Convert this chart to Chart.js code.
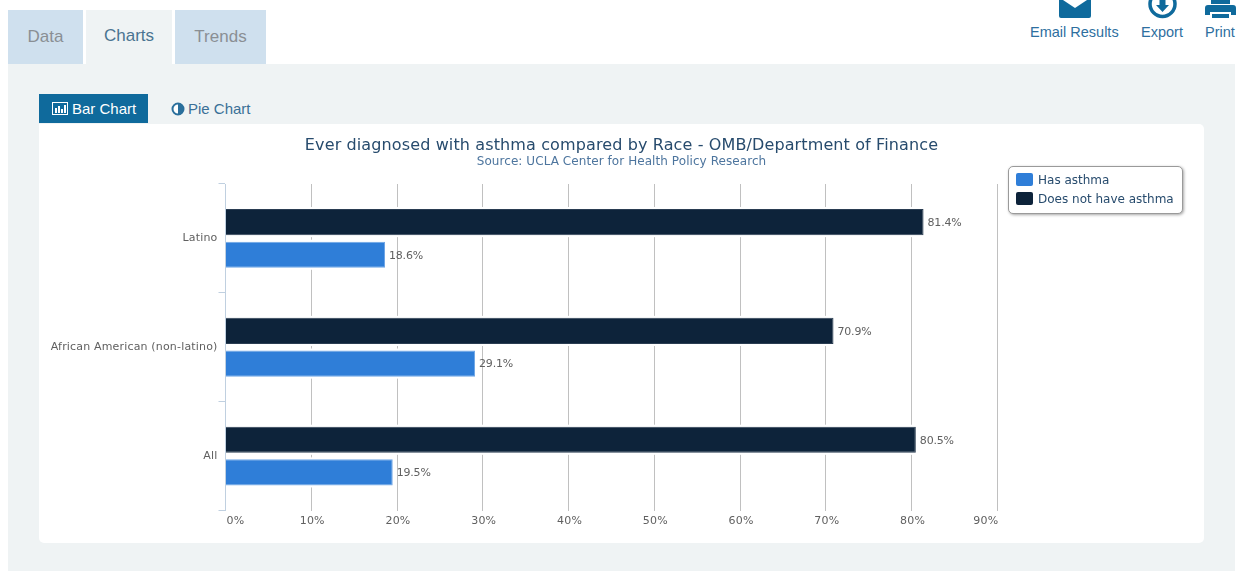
<!DOCTYPE html>
<html>
<head>
<meta charset="utf-8">
<script src="https://cdn.jsdelivr.net/npm/chart.js@4"></script>
<style>
html,body{margin:0;padding:0;background:#fff;overflow:hidden;}
body{width:1246px;height:571px;position:relative;font-family:"Liberation Sans",Arial,sans-serif;}
.abs{position:absolute;}
.panel{left:8px;top:64px;width:1227px;height:507px;background:#eff3f4;}
.tab{top:10px;height:54px;background:#cfe0ee;color:#8a8f94;font-size:17px;line-height:53px;text-align:center;}
.tab.on{background:#eff3f4;color:#4a7391;line-height:51px;}
.act{color:#2e6f9f;font-size:14.5px;top:24px;white-space:nowrap;}
.btn{left:39px;top:94px;width:109px;height:29px;background:#0f6a9c;color:#fff;font-size:15px;line-height:30px;}
.btn2{left:171px;top:94px;height:29px;color:#3a7097;font-size:15px;line-height:30px;}
.card{left:39px;top:124px;width:1165px;height:419px;background:#fff;border-radius:0 5px 5px 5px;}
#chart{position:absolute;left:39px;top:124px;}
.heading{left:39px;width:1165px;text-align:center;font-family:"DejaVu Sans",sans-serif;white-space:nowrap;}
.legend{left:1008px;top:166px;width:173px;height:46px;background:#fff;border:1px solid #9a9a9a;border-radius:5px;box-shadow:1px 1px 3px rgba(0,0,0,.35);font:12px "DejaVu Sans",sans-serif;color:#274b6d;}
.legend div{position:absolute;left:7px;height:13px;line-height:13px;white-space:nowrap;}
.legend i{display:inline-block;width:17px;height:13px;border-radius:2px;margin-right:5px;vertical-align:top;}
.legend span{position:relative;top:1px;}
svg{position:absolute;}
</style>
</head>
<body>
<div class="abs panel"></div>
<div class="abs tab" style="left:8px;width:75px">Data</div>
<div class="abs tab on" style="left:86px;width:86px">Charts</div>
<div class="abs tab" style="left:175px;width:91px">Trends</div>

<svg style="left:1059px;top:0" width="32" height="19" viewBox="0 0 32 19"><path d="M0 0h4l12 8 12-8h4v16a2 2 0 0 1-2 2H2a2 2 0 0 1-2-2z" fill="#0f6a9c"/></svg>
<div class="abs act" style="left:1030px">Email Results</div>
<svg style="left:1148px;top:0" width="29" height="19" viewBox="0 0 29 19"><circle cx="14.500" cy="4" r="12.500" fill="none" stroke="#0f6a9c" stroke-width="3.500"/><path d="M11.500 0h6v5h3.500l-6.500 7-6.500-7h3.500z" fill="#0f6a9c"/></svg>
<div class="abs act" style="left:1141px">Export</div>
<svg style="left:1205px;top:0" width="31" height="19" viewBox="0 0 31 19"><path d="M6 0h19v4H6zM3 5h25a3 3 0 0 1 3 3v7h-5v-3H5v3H0V8a3 3 0 0 1 3-3zM7 14h17v4H7z" fill="#0f6a9c"/></svg>
<div class="abs act" style="left:1205px">Print</div>

<div class="abs btn"><span style="margin-left:33px">Bar Chart</span></div>
<svg style="left:52px;top:102px" width="16" height="13" viewBox="0 0 16 13"><rect x=".5" y=".5" width="15" height="12" fill="none" stroke="#fff"/><path d="M3 6h2v5H3zM6 4h2v7H6zM9 7h2v4H9zM12 3h2v8h-2z" fill="#fff"/></svg>
<div class="abs btn2"><span style="margin-left:17px">Pie Chart</span></div>
<svg style="left:171px;top:102px" width="14" height="14" viewBox="0 0 14 14"><circle cx="7" cy="7" r="5.500" fill="#fff" stroke="#2a6f9c" stroke-width="2"/><path d="M7 1.500a5.500 5.500 0 0 1 0 11z" fill="#2a6f9c"/></svg>

<div class="abs card"></div>
<canvas id="chart" width="1165" height="419"></canvas>
<div class="abs heading" id="title" style="top:134.500px;font-size:16px;line-height:20px;letter-spacing:.12px;color:#274b6d"></div>
<div class="abs heading" id="subtitle" style="top:153px;font-size:12px;line-height:16px;letter-spacing:.07px;color:#4d759e"></div>
<div class="abs legend" id="legend"></div>

<script>
const categories = ["All", "African American (non-latino)", "Latino"];
const has_asthma = [19.5, 29.1, 18.6];
const no_asthma = [80.5, 70.9, 81.4];
const series_names = ["Has asthma", "Does not have asthma"];
const series_colors = ["#2f7ed8", "#0d233a"];
const border_colors = ["#6fa6e6", "#2a3d52"];
const x_ticks = [0, 10, 20, 30, 40, 50, 60, 70, 80, 90];
const title_text = "Ever diagnosed with asthma compared by Race - OMB/Department of Finance";
const subtitle_text = "Source: UCLA Center for Health Policy Research";

const font_name = '"DejaVu Sans", sans-serif';

// axis labels run a touch wider than the plain font, value labels a touch narrower
const bar_labels = {
    id: "bar_labels",
    beforeDraw(chart){
        chart.ctx.letterSpacing = "0.17px";
    },
    // white gap in the grid lines around each bar
    beforeDatasetsDraw(chart){
        let ctx = chart.ctx;
        ctx.save();
        ctx.fillStyle = "#fff";
        chart.data.datasets.forEach((ds, i)=>{
            chart.getDatasetMeta(i).data.forEach((bar)=>{
                ctx.fillRect(bar.base + 1, bar.y - bar.height / 2 - 2, bar.x - bar.base + 1, bar.height + 4);
            })
        })
        ctx.restore();
    },
    afterDatasetsDraw(chart){
        let ctx = chart.ctx;
        ctx.save();
        ctx.letterSpacing = "-0.2px";
        ctx.font = "11px " + font_name;
        ctx.fillStyle = "#606060";
        ctx.textBaseline = "middle";
        chart.data.datasets.forEach((ds, i)=>{
            chart.getDatasetMeta(i).data.forEach((bar, j)=>{
                ctx.fillText(ds.data[j].toFixed(1) + "%", bar.x + 4, bar.y + 1);
            })
        })
        ctx.restore();
    }
};

function set_up_chart(){
    let chart = document.querySelector("#chart");
    new Chart(chart, {
        type: "bar",
        plugins: [bar_labels],
        data: {
            labels: categories,
            datasets: [
                {label: series_names[1], data: no_asthma, backgroundColor: series_colors[1], borderColor: border_colors[1], borderWidth: 1},
                {label: series_names[0], data: has_asthma, backgroundColor: series_colors[0], borderColor: border_colors[0], borderWidth: 1}
            ]
        },
        options: {
            indexAxis: "y",
            responsive: false,
            animation: false,
            devicePixelRatio: 1,
            categoryPercentage: 0.6,
            barPercentage: 0.8,
            layout: {padding: {left: 0, right: 206.700, top: 60, bottom: 0}},
            plugins: {
                legend: {display: false},
                tooltip: {enabled: false}
            },
            scales: {
                x: {
                    min: 0,
                    max: 90,
                    afterBuildTicks(scale){
                        scale.ticks = x_ticks.map((v)=>({value: v}));
                    },
                    afterFit(scale){
                        scale.height = 32.500;
                    },
                    grid: {color: "#c0c0c0", drawTicks: false},
                    border: {display: false},
                    ticks: {
                        color: "#606060",
                        font: {family: font_name, size: 11},
                        align: "inner",
                        labelOffset: 1,
                        padding: 4.500,
                        maxRotation: 0,
                        callback: (v)=>v + "%"
                    }
                },
                y: {
                    reverse: true,
                    afterFit(scale){
                        scale.width = 186.500;
                    },
                    grid: {drawOnChartArea: false, color: "#c0d0e0", tickLength: 7},
                    border: {color: "#c0d0e0"},
                    ticks: {
                        color: "#606060",
                        font: {family: font_name, size: 11},
                        padding: 1
                    }
                }
            }
        }
    });
}

function set_up_legend(){
    let legend = document.querySelector("#legend");
    series_names.forEach((name, i)=>{
        let row = document.createElement("div");
        row.style.top = (6 + i * 19) + "px";
        let swatch = document.createElement("i");
        swatch.style.background = series_colors[i];
        let label = document.createElement("span");
        label.textContent = name;
        row.appendChild(swatch);
        row.appendChild(label);
        legend.appendChild(row);
    })
}

document.querySelector("#title").textContent = title_text;
document.querySelector("#subtitle").textContent = subtitle_text;
set_up_chart()
set_up_legend()
</script>
</body>
</html>
